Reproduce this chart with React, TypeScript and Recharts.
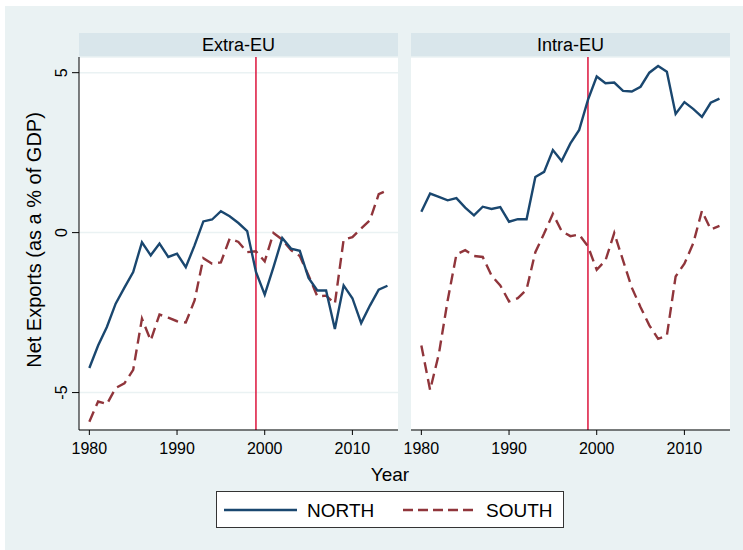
import { LineChart, Line, XAxis, YAxis, CartesianGrid, ReferenceLine } from "recharts"

// years 1980-2014
const years = [
  1980, 1981, 1982, 1983, 1984, 1985, 1986, 1987, 1988, 1989,
  1990, 1991, 1992, 1993, 1994, 1995, 1996, 1997, 1998, 1999,
  2000, 2001, 2002, 2003, 2004, 2005, 2006, 2007, 2008, 2009,
  2010, 2011, 2012, 2013, 2014,
]

const extraNorth = [
  -4.23, -3.53, -2.95, -2.22, -1.72, -1.23, -0.3, -0.71, -0.34, -0.76,
  -0.66, -1.08, -0.4, 0.35, 0.41, 0.67, 0.51, 0.3, 0.05, -1.23,
  -1.94, -1.08, -0.17, -0.5, -0.57, -1.42, -1.81, -1.81, -3.01, -1.65,
  -2.05, -2.83, -2.28, -1.78, -1.66,
]
const extraSouth = [
  -5.91, -5.28, -5.36, -4.86, -4.71, -4.29, -2.69, -3.37, -2.56, -2.66,
  -2.77, -2.81, -2.12, -0.8, -0.97, -0.93, -0.19, -0.29, -0.61, -0.58,
  -0.9, -0.01, -0.22, -0.55, -0.73, -1.34, -1.99, -1.97, -2.22, -0.22,
  -0.14, 0.13, 0.39, 1.2, 1.33,
]
const intraNorth = [
  0.65, 1.22, 1.12, 1.01, 1.08, 0.78, 0.54, 0.81, 0.74, 0.8,
  0.34, 0.42, 0.42, 1.74, 1.9, 2.58, 2.24, 2.79, 3.21, 4.15,
  4.88, 4.67, 4.69, 4.43, 4.41, 4.56, 5.0, 5.21, 5.03, 3.71,
  4.08, 3.87, 3.62, 4.06, 4.19,
]
const intraSouth = [
  -3.53, -4.92, -3.79, -2.12, -0.68, -0.55, -0.73, -0.76, -1.34, -1.65,
  -2.15, -2.05, -1.78, -0.61, -0.03, 0.59, 0.05, -0.11, -0.06, -0.43,
  -1.16, -0.87, -0.01, -0.87, -1.72, -2.33, -2.9, -3.32, -3.22, -1.37,
  -0.97, -0.34, 0.68, 0.1, 0.21,
]

const yTicks = [-5, 0, 5]
const xTicks = [1980, 1990, 2000, 2010]
const euroYear = 1999

const FONT = "'Liberation Sans', Arial, Helvetica, sans-serif"
const NAVY = "#1A476F"
const MAROON = "#90353B"
const RED = "#DC143C"
const BG = "#EAF2F3"
const STRIP = "#D9E6EB"

const extraData = years.map((year, i) => ({ year, north: extraNorth[i], south: extraSouth[i] }))
const intraData = years.map((year, i) => ({ year, north: intraNorth[i], south: intraSouth[i] }))

function YTick(props: any) {
  const { x, y, payload } = props
  return (
    <text
      transform={`translate(${x - 3},${y}) rotate(-90)`}
      textAnchor="middle"
      fontSize={16}
      fontFamily={FONT}
      fill="#000"
    >
      {payload.value}
    </text>
  )
}

function Panel({ data, showY, width, padLeft }: { data: any[]; showY: boolean; width: number; padLeft: number }) {
  return (
    <LineChart width={width} height={470} data={data} margin={{ top: 57, right: 2, left: padLeft, bottom: 0 }}>
      <CartesianGrid vertical={false} stroke={BG} strokeWidth={1.5} fill="#fff" fillOpacity={1} />
      <XAxis
        dataKey="year"
        type="number"
        domain={[1978.82, 2015.2]}
        ticks={xTicks}
        interval={0}
        allowDataOverflow
        height={40}
        tickSize={5}
        tickMargin={8}
        stroke="#000"
        tick={{ fontSize: 16, fontFamily: FONT, fill: "#000" }}
      />
      <YAxis
        type="number"
        domain={[-6.17, 5.49]}
        ticks={yTicks}
        allowDataOverflow
        width={showY ? 79 : 0}
        tickSize={7}
        tickMargin={2}
        axisLine={showY ? { stroke: "#000" } : false}
        tickLine={showY ? { stroke: "#000" } : false}
        tick={showY ? <YTick /> : false}
      />
      <ReferenceLine x={euroYear} stroke={RED} strokeWidth={1.5} />
      <Line
        type="linear"
        dataKey="south"
        stroke={MAROON}
        strokeWidth={2.4}
        strokeDasharray="11 6"
        dot={false}
        isAnimationActive={false}
      />
      <Line
        type="linear"
        dataKey="north"
        stroke={NAVY}
        strokeWidth={2.4}
        dot={false}
        isAnimationActive={false}
      />
    </LineChart>
  )
}

function Strip({ left, label }: { left: number; label: string }) {
  return (
    <div
      style={{
        position: "absolute",
        left,
        top: 33,
        width: 319,
        height: 24,
        background: STRIP,
        fontFamily: FONT,
        fontSize: 18,
        lineHeight: "25px",
        textAlign: "center",
        color: "#000",
      }}
    >
      {label}
    </div>
  )
}

export default function App() {
  return (
    <div style={{ position: "absolute", left: 0, top: 0, width: 743, height: 550, background: "#fff", overflow: "hidden" }}>
      <div style={{ position: "absolute", left: 5, top: 6, width: 738, height: 544, background: BG }} />
      <Strip left={79} label="Extra-EU" />
      <Strip left={411} label="Intra-EU" />
      <div style={{ position: "absolute", left: 0, top: 0 }}>
        <Panel data={extraData} showY width={400} padLeft={0} />
      </div>
      <div style={{ position: "absolute", left: 391, top: 0 }}>
        <Panel data={intraData} showY={false} width={341} padLeft={20} />
      </div>
      <svg width={743} height={550} style={{ position: "absolute", left: 0, top: 0, pointerEvents: "none" }}>
        <text
          transform="translate(41,240) rotate(-90)"
          textAnchor="middle"
          fontSize={20}
          fontFamily={FONT}
          fill="#000"
        >
          Net Exports (as a % of GDP)
        </text>
        <text x={390} y={481} textAnchor="middle" fontSize={19} fontFamily={FONT} fill="#000">
          Year
        </text>
        <rect x={216.5} y={491.5} width={347} height={36} fill="#fff" stroke="#333" strokeWidth={1} />
        <line x1={224} y1={510} x2={297} y2={510} stroke={NAVY} strokeWidth={2.4} />
        <text x={307} y={516.5} fontSize={19} fontFamily={FONT} fill="#000">NORTH</text>
        <line x1={403} y1={510} x2={476} y2={510} stroke={MAROON} strokeWidth={2.4} strokeDasharray="10 5" />
        <text x={486} y={516.5} fontSize={19} fontFamily={FONT} fill="#000">SOUTH</text>
      </svg>
    </div>
  )
}
